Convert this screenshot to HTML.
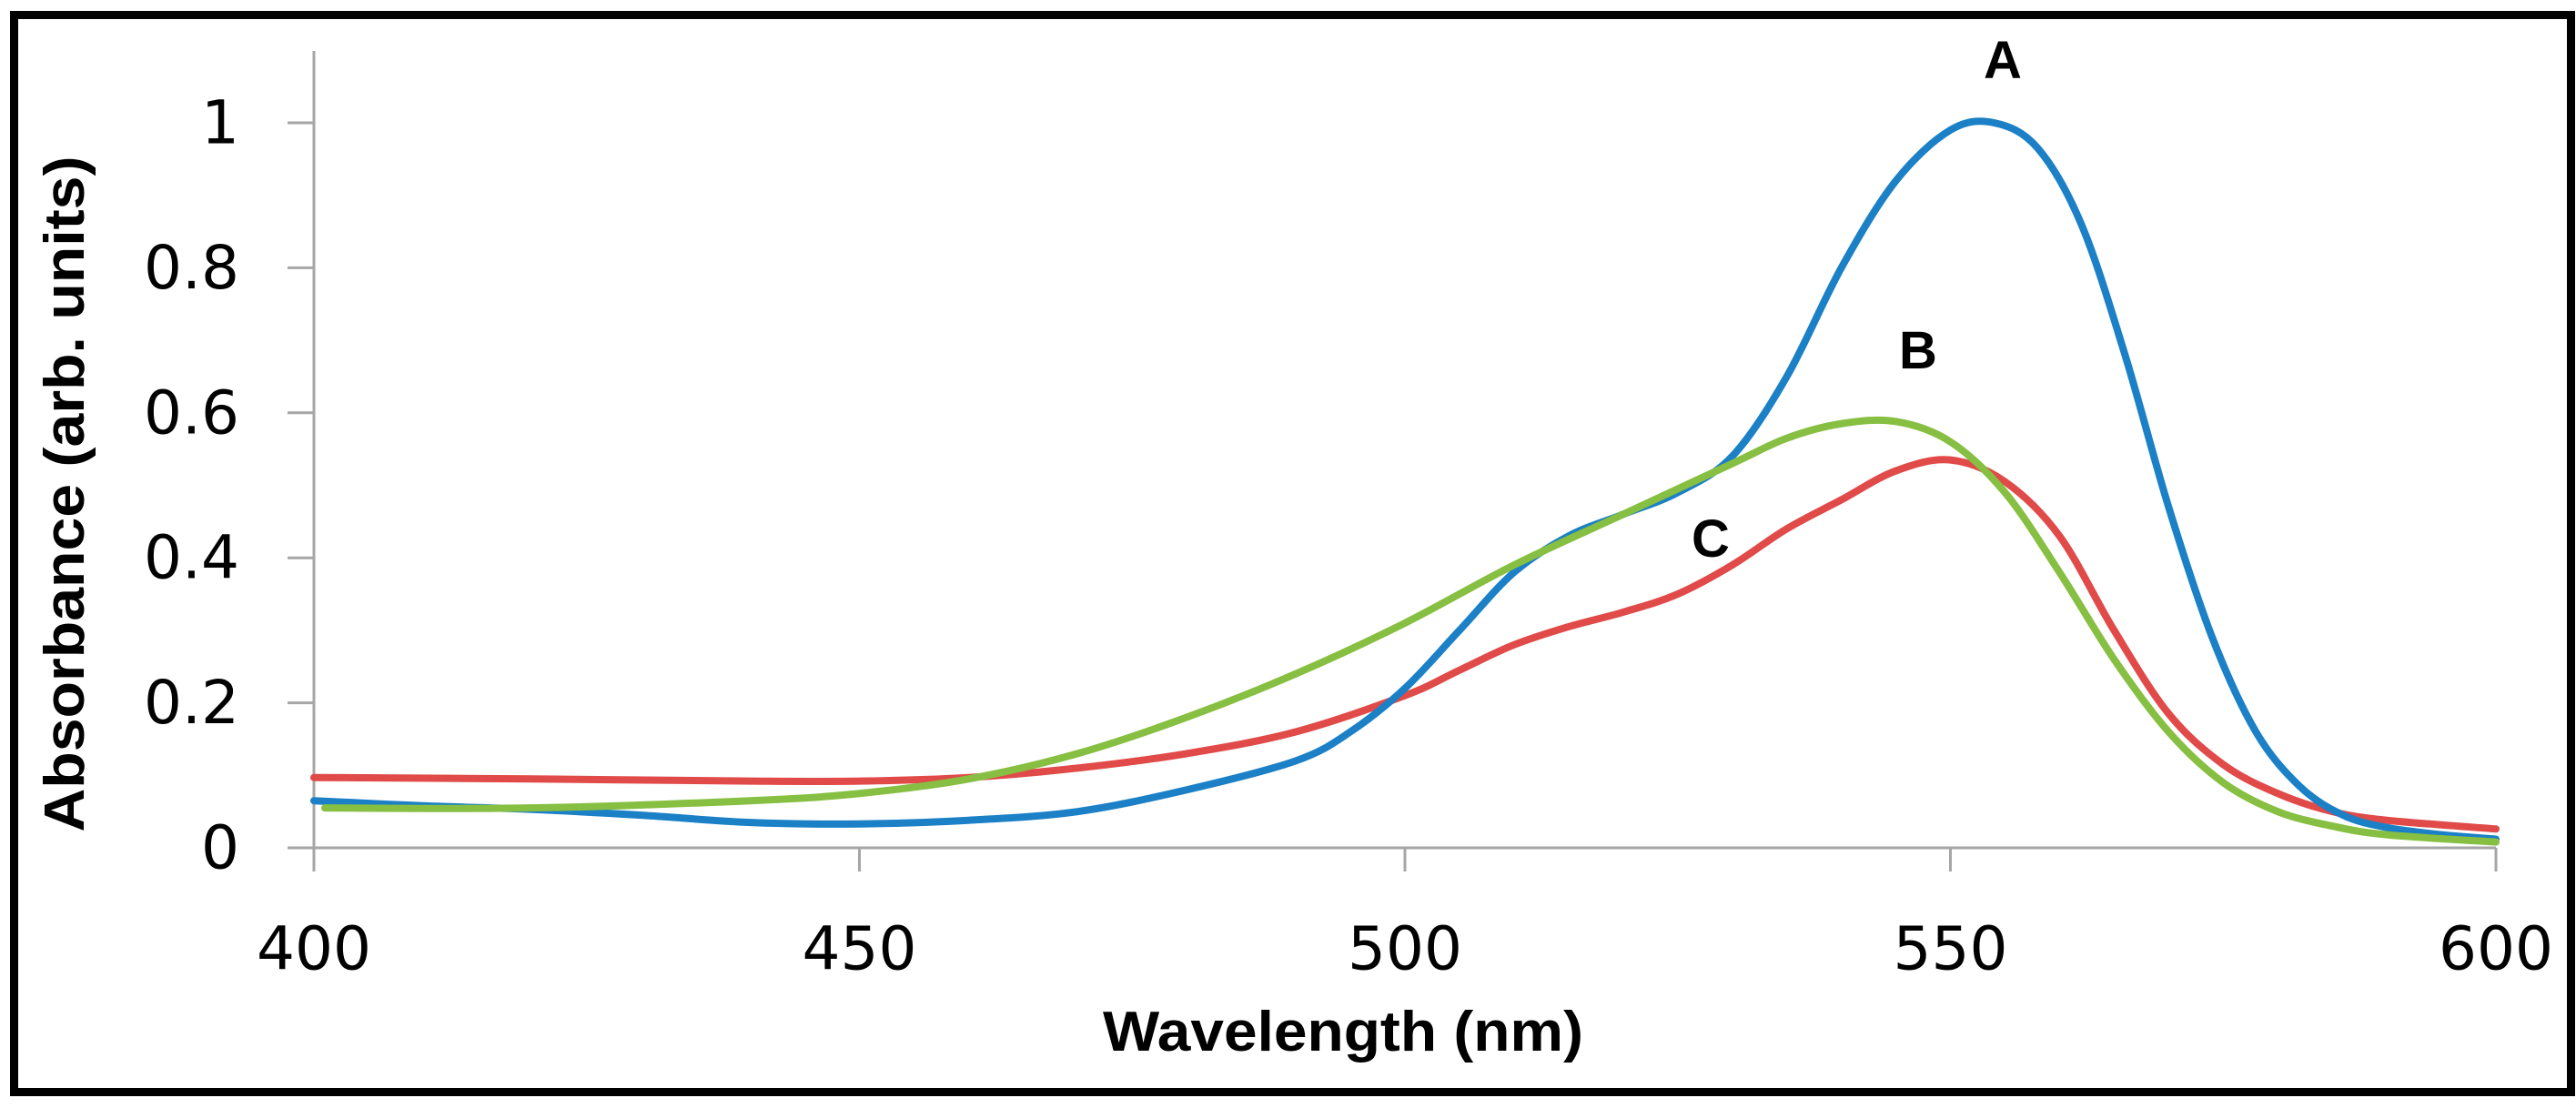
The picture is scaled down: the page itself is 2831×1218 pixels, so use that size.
<!DOCTYPE html>
<html><head><meta charset="utf-8"><style>
html,body{margin:0;padding:0;background:#fff;}
svg{display:block;}
</style></head><body>
<svg id="chart" width="2831" height="1218" viewBox="0 0 2831 1218" xmlns="http://www.w3.org/2000/svg">
<rect x="15.5" y="16.5" width="2810" height="1184" fill="#fff" stroke="#000" stroke-width="9"/>
<g id="axes"></g>
<g id="series"></g>
<text x="1476" y="1155" font-family="Liberation Sans, sans-serif" font-weight="bold" font-size="62" text-anchor="middle" textLength="528" lengthAdjust="spacingAndGlyphs">Wavelength (nm)</text>
<text transform="translate(92,543) rotate(-90)" font-family="Liberation Sans, sans-serif" font-weight="bold" font-size="62" text-anchor="middle" textLength="743" lengthAdjust="spacingAndGlyphs">Absorbance  (arb. units)</text>
<text x="2201" y="86" font-family="Liberation Sans, sans-serif" font-weight="bold" font-size="58" text-anchor="middle">A</text>
<text x="2108" y="405" font-family="Liberation Sans, sans-serif" font-weight="bold" font-size="58" text-anchor="middle">B</text>
<text x="1880" y="612" font-family="Liberation Sans, sans-serif" font-weight="bold" font-size="58" text-anchor="middle">C</text>
</svg>
<script>
const xTicks = [400, 450, 500, 550, 600];
const yTicks = [0, 0.2, 0.4, 0.6, 0.8, 1];
const yTickLabels = ["0", "0.2", "0.4", "0.6", "0.8", "1"];
const wlA = [400,410,420,430,440,450,460,470,480,490,495,500,505,510,515,520,525,530,535,540,545,550,554,558,562,566,570,574,578,582,586,590,595,600];
const absA = [0.065,0.058,0.053,0.045,0.035,0.033,0.038,0.05,0.08,0.12,0.16,0.22,0.3,0.38,0.43,0.46,0.49,0.54,0.65,0.8,0.92,0.99,1.0,0.965,0.86,0.68,0.47,0.29,0.16,0.085,0.045,0.028,0.018,0.012];
const wlB = [401,420,440,450,460,470,480,490,500,510,520,530,535,540,545,550,555,560,565,570,575,580,585,590,600];
const absB = [0.055,0.055,0.065,0.075,0.095,0.13,0.18,0.24,0.31,0.39,0.46,0.53,0.565,0.585,0.588,0.56,0.49,0.38,0.26,0.16,0.09,0.05,0.03,0.018,0.008];
const wlC = [400,420,440,450,460,470,480,490,500,505,510,515,520,525,530,535,540,545,550,555,560,565,570,575,580,585,590,600];
const absC = [0.097,0.095,0.092,0.092,0.097,0.11,0.13,0.16,0.21,0.245,0.28,0.305,0.325,0.35,0.39,0.44,0.48,0.52,0.535,0.505,0.43,0.3,0.185,0.115,0.075,0.05,0.038,0.026];

const NS = "http://www.w3.org/2000/svg";
const X0 = 345, X1 = 2743, Y0 = 932, Y1 = 135;
function xs(v){ return X0 + (v - 400) / 200 * (X1 - X0); }
function ys(v){ return Y0 - v * (Y0 - Y1); }
function mk(tag, attrs, parent){ const e = document.createElementNS(NS, tag); for (const k in attrs) e.setAttribute(k, attrs[k]); parent.appendChild(e); return e; }

const axes = document.getElementById('axes');
const ax = mk('line', {x1: X0, y1: 56, x2: X0, y2: 958, stroke: '#a6a6a6', 'stroke-width': 3}, axes);


const bx = mk('line', {x1: 316, y1: Y0, x2: X1, y2: Y0, stroke: '#a6a6a6', 'stroke-width': 3}, axes);


yTicks.forEach((t, i) => {
  const tk = mk('line', {x1: 316, y1: ys(t), x2: X0, y2: ys(t), stroke: '#a6a6a6', 'stroke-width': 3}, axes);
  
  
  const lb = mk('text', {x: 263, y: ys(t), 'font-family': 'DejaVu Sans, sans-serif', 'font-size': 66, 'text-anchor': 'end', 'dominant-baseline': 'central'}, axes);
  lb.textContent = yTickLabels[i];
  
  
});
xTicks.forEach(t => {
  const tk = mk('line', {x1: xs(t), y1: Y0, x2: xs(t), y2: 958, stroke: '#a6a6a6', 'stroke-width': 3}, axes);
  
  
  const lb = mk('text', {x: xs(t), y: 1043, 'font-family': 'DejaVu Sans, sans-serif', 'font-size': 66, 'text-anchor': 'middle', 'dominant-baseline': 'central'}, axes);
  lb.textContent = String(t);
  
  
});

function smoothPath(wl, ab){
  const p = wl.map((w, i) => [xs(w), ys(ab[i])]);
  let d = 'M' + p[0][0] + ',' + p[0][1];
  for (let i = 0; i < p.length - 1; i++){
    const a = p[Math.max(0, i - 1)], b = p[i], c = p[i + 1], e = p[Math.min(p.length - 1, i + 2)];
    const c1 = [b[0] + (c[0] - a[0]) / 6, b[1] + (c[1] - a[1]) / 6];
    const c2 = [c[0] - (e[0] - b[0]) / 6, c[1] - (e[1] - b[1]) / 6];
    d += ' C' + c1[0] + ',' + c1[1] + ' ' + c2[0] + ',' + c2[1] + ' ' + c[0] + ',' + c[1];
  }
  return d;
}
const series = document.getElementById('series');
const pc = mk('path', {d: smoothPath(wlC, absC), fill: 'none', stroke: '#e04a48', 'stroke-width': 8, 'stroke-linecap': 'round'}, series);


const pa = mk('path', {d: smoothPath(wlA, absA), fill: 'none', stroke: '#1b80c6', 'stroke-width': 8, 'stroke-linecap': 'round'}, series);


const pb = mk('path', {d: smoothPath(wlB, absB), fill: 'none', stroke: '#86bf41', 'stroke-width': 8, 'stroke-linecap': 'round'}, series);


</script>
</body></html>
